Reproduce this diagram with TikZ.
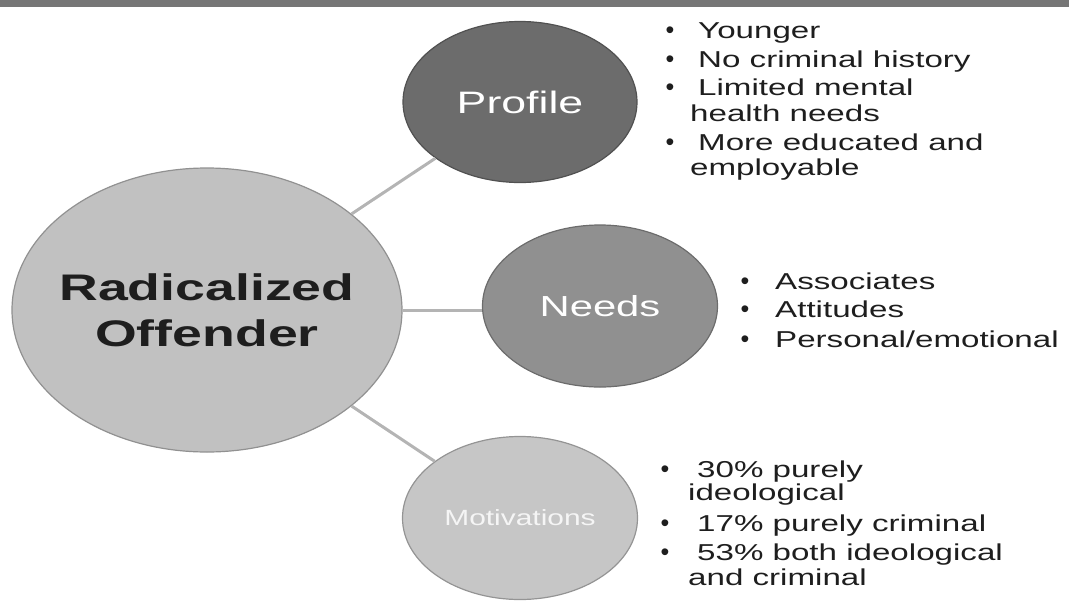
\documentclass[tikz,border=0pt]{standalone}
\usepackage{fontspec}
\setmainfont{Liberation Sans}
\usetikzlibrary{shapes.geometric}
\definecolor{barc}{HTML}{767676}
\definecolor{bigc}{HTML}{C1C1C1}
\definecolor{profc}{HTML}{6C6C6C}
\definecolor{needc}{HTML}{909090}
\definecolor{motc}{HTML}{C6C6C6}
\definecolor{linkc}{HTML}{B4B4B4}
\definecolor{txtc}{HTML}{1E1E1E}
\newcommand\sx[1]{\scalebox{1.44}[1]{#1}}
\begin{document}
\begin{tikzpicture}[x=1pt,y=-1pt,
  bubble/.style={ellipse, inner sep=0pt, draw=#1!75!black, line width=1.2pt, fill=#1},
  link/.style={draw=linkc, line width=3pt},
  item/.style={anchor=base west, inner sep=0pt, text=txtc, font=\fontsize{23}{27}\selectfont},
  dotm/.style={anchor=base, inner sep=0pt, text=txtc, font=\fontsize{25}{25}\selectfont}]
\useasboundingbox (0,0) rectangle (1069,603);
\fill[barc] (0,0) rectangle (1069,7);
% bubbles
\node[bubble=bigc, minimum width=390pt, minimum height=284pt] (big) at (207,310) {};
\node[align=center, inner sep=0pt, font=\bfseries\fontsize{37}{46}\selectfont, text=txtc] (bigt) at (big.center)
      {\scalebox{1.45}[1]{Radicalized}\\\scalebox{1.45}[1]{Offender}};
\node[bubble=profc, minimum width=234pt, minimum height=161pt, text=white,
      font=\fontsize{31}{31}\selectfont] (prof) at (520,102) {\sx{Profile}};
\node[bubble=needc, minimum width=235pt, minimum height=162pt, text=white,
      font=\fontsize{29}{29}\selectfont] (need) at (600,306) {\sx{Needs}};
\node[bubble=motc, minimum width=235pt, minimum height=163pt, text=white!96!black,
      font=\fontsize{22}{22}\selectfont] (mot) at (520,518) {\scalebox{1.36}[1]{Motivations}};
% connectors
\draw[link] (big) -- (prof);
\draw[link] (big.east) -- (big.east -| need.west);
\draw[link] (big) -- (mot);
% Profile list
\node[dotm] (pb1) at (670,38) {•};
\node[dotm] (pb2) at (670,67) {•};
\node[dotm] (pb3) at (670,95) {•};
\node[dotm] (pb4) at (670,150) {•};
\node[item] (p1) at (698,38) {\sx{Younger}};
\node[item] (p2) at (698,67) {\sx{No criminal history}};
\node[item] (p3) at (698,95) {\sx{Limited mental}};
\node[item] (p4) at (690,121) {\sx{health needs}};
\node[item] (p5) at (698,150) {\sx{More educated and}};
\node[item] (p6) at (690,175) {\sx{employable}};
% Needs list
\node[dotm] (nb1) at (745,289) {•};
\node[dotm] (nb2) at (745,317) {•};
\node[dotm] (nb3) at (745,347) {•};
\node[item] (n1) at (775,289) {\sx{Associates}};
\node[item] (n2) at (775,317) {\sx{Attitudes}};
\node[item] (n3) at (775,347) {\sx{Personal/emotional}};
% Motivations list
\node[dotm] (mb1) at (665,477) {•};
\node[dotm] (mb2) at (665,531) {•};
\node[dotm] (mb3) at (665,560) {•};
\node[item] (m1) at (697,477) {\sx{30\% purely}};
\node[item] (m2) at (688,500) {\sx{ideological}};
\node[item] (m3) at (697,531) {\sx{17\% purely criminal}};
\node[item] (m4) at (697,560) {\sx{53\% both ideological}};
\node[item] (m5) at (688,585) {\sx{and criminal}};
\end{tikzpicture}
\end{document}
